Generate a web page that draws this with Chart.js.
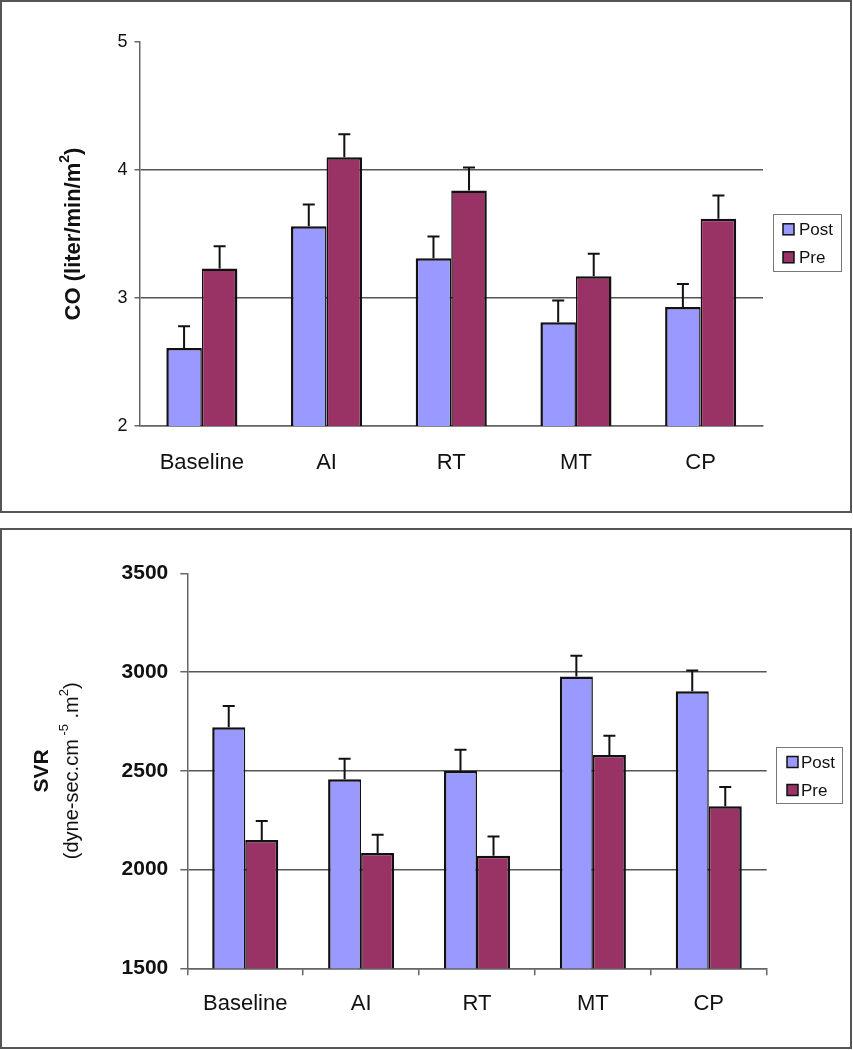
<!DOCTYPE html>
<html>
  <head>
    <meta charset="utf-8" />
    <title>CO and SVR</title>
    <script src="https://cdn.jsdelivr.net/npm/chart.js"></script>
    <style>
      body {
        margin: 0;
        background: #fff;
      }
      .frame {
        position: absolute;
        left: 0;
        width: 852px;
        box-sizing: border-box;
        border: 2px solid #555;
        background: #fff;
      }
      .frame div {
        position: relative;
        width: 848px;
      }
    </style>

    <script type="text/javascript">
      // ---------------------------------------------
      // data
      var categories = ["Baseline", "AI", "RT", "MT", "CP"];

      var coPost = [2.61, 3.56, 3.31, 2.81, 2.93];
      var coPre = [3.23, 4.1, 3.84, 3.17, 3.62];
      var coPostErr = [0.17, 0.17, 0.17, 0.17, 0.18];
      var coPreErr = [0.175, 0.18, 0.18, 0.175, 0.18];
      var coTicks = [2, 3, 4, 5];

      var svrPost = [2720, 2457, 2500, 2978, 2903];
      var svrPre = [2149, 2084, 2070, 2580, 2321];
      var svrPostErr = [108, 104, 107, 105, 105];
      var svrPreErr = [97, 92, 97, 97, 97];
      var svrTicks = [1500, 2000, 2500, 3000, 3500];

      var postColor = "#9999ff";
      var preColor = "#993366";
      var FONT = 'Arial, "Liberation Sans", sans-serif';

      // ---------------------------------------------
      // upward error bars with a small cap
      const errorBars = {
        id: "errorBars",
        afterDatasetsDraw(chart) {
          const ctx = chart.ctx;
          const y = chart.scales.y;
          chart.data.datasets.forEach((ds, i) => {
            chart.getDatasetMeta(i).data.forEach((bar, j) => {
              const top = y.getPixelForValue(ds.data[j] + ds.errors[j]);
              ctx.save();
              ctx.strokeStyle = "#111";
              ctx.lineWidth = 2;
              ctx.beginPath();
              ctx.moveTo(bar.x, bar.y);
              ctx.lineTo(bar.x, top);
              ctx.moveTo(bar.x - 6, top);
              ctx.lineTo(bar.x + 6, top);
              ctx.stroke();
              ctx.restore();
            });
          });
        },
      };

      // ---------------------------------------------
      // rotated y title, lines may mix fonts and superscripts
      const yTitle = {
        id: "yTitle",
        afterDraw(chart, args, opts) {
          const ctx = chart.ctx;
          const cy = (chart.chartArea.top + chart.chartArea.bottom) / 2;
          opts.lines.forEach((line) => {
            const supFont = line.weight + " " + Math.round(line.size * 0.65) + "px " + FONT;
            const mainFont = line.weight + " " + line.size + "px " + FONT;
            var w = 0;
            line.parts.forEach((p) => {
              ctx.font = p[1] ? supFont : mainFont;
              w += ctx.measureText(p[0]).width;
            });
            ctx.save();
            ctx.translate(line.x, cy);
            ctx.rotate(-Math.PI / 2);
            ctx.fillStyle = "#111";
            ctx.textBaseline = "middle";
            ctx.textAlign = "left";
            var x = -w / 2;
            line.parts.forEach((p) => {
              ctx.font = p[1] ? supFont : mainFont;
              ctx.fillText(p[0], x, p[1] ? -line.size * 0.38 : 0);
              x += ctx.measureText(p[0]).width;
            });
            ctx.restore();
          });
        },
      };

      // ---------------------------------------------
      // boxed legend like the original
      const boxLegend = {
        id: "boxLegend",
        afterDraw(chart, args, o) {
          const ctx = chart.ctx;
          ctx.save();
          ctx.strokeStyle = "#777";
          ctx.lineWidth = 1;
          ctx.strokeRect(o.x + 0.5, o.y + 0.5, o.w, o.h);
          ctx.font = o.size + "px " + FONT;
          ctx.textBaseline = "middle";
          chart.data.datasets.forEach((ds, i) => {
            const ry = o.rows[i];
            ctx.fillStyle = ds.backgroundColor;
            ctx.fillRect(o.sx, ry - 5.5, 11, 11);
            ctx.strokeStyle = "#111";
            ctx.lineWidth = 1.5;
            ctx.strokeRect(o.sx, ry - 5.5, 11, 11);
            ctx.fillStyle = "#111";
            ctx.fillText(ds.label, o.tx, ry + 1);
          });
          ctx.restore();
        },
      };

      function makeChart(id, cfg) {
        const datasets = [
          {
            label: "Post",
            data: cfg.post,
            errors: cfg.postErr,
            backgroundColor: postColor,
            borderColor: "#111",
            borderWidth: { left: 2.5, top: 2.5, right: 1.5, bottom: 2.5 },
            borderSkipped: false,
          },
          {
            label: "Pre",
            data: cfg.pre,
            errors: cfg.preErr,
            backgroundColor: preColor,
            borderColor: "#111",
            borderWidth: { left: 1.5, top: 2.5, right: 2.5, bottom: 2.5 },
            borderSkipped: false,
          },
        ];

        return new Chart(document.getElementById(id), {
          type: "bar",
          data: { labels: categories, datasets: datasets },
          plugins: [errorBars, yTitle, boxLegend],
          options: {
            responsive: true,
            maintainAspectRatio: false,
            animation: false,
            categoryPercentage: 0.57,
            barPercentage: 1,
            layout: { padding: { top: cfg.padTop, right: cfg.padRight, left: 0, bottom: 0 } },
            plugins: {
              legend: { display: false },
              tooltip: { enabled: false },
              yTitle: { lines: cfg.title },
              boxLegend: cfg.legend,
            },
            scales: {
              x: {
                afterFit(scale) {
                  scale.height = cfg.xHeight;
                },
                border: { display: true, color: "#666", width: 1.5 },
                grid: {
                  display: cfg.xTicks,
                  drawOnChartArea: false,
                  drawTicks: cfg.xTicks,
                  tickLength: 7,
                  color: "#666",
                  lineWidth: 1.5,
                },
                ticks: {
                  color: "#111",
                  padding: cfg.xPad,
                  font: { size: 22, family: FONT },
                },
              },
              y: {
                min: cfg.ticks[0],
                max: cfg.ticks[cfg.ticks.length - 1],
                afterFit(scale) {
                  scale.width = cfg.yWidth;
                },
                afterBuildTicks(scale) {
                  scale.ticks = cfg.ticks.map((v) => ({ value: v }));
                },
                border: { display: true, color: "#666", width: 1.5 },
                grid: {
                  color: (c) =>
                    c.tick && c.tick.value === cfg.ticks[cfg.ticks.length - 1] ? "rgba(0,0,0,0)" : "#555",
                  tickColor: "#666",
                  lineWidth: 1.5,
                  tickLength: cfg.yTickLen,
                },
                ticks: {
                  color: "#111",
                  padding: cfg.yPad,
                  font: { size: cfg.yFontSize, weight: cfg.yFontWeight, family: FONT },
                  callback: (v) => String(v),
                },
              },
            },
          },
        });
      }

      function start() {
        Chart.defaults.font.family = FONT;

        makeChart("coChart", {
          post: coPost,
          pre: coPre,
          postErr: coPostErr,
          preErr: coPreErr,
          ticks: coTicks,
          padTop: 40,
          padRight: 87,
          xHeight: 85,
          xTicks: false,
          xPad: 24,
          yWidth: 137.5,
          yTickLen: 5,
          yPad: 7,
          yFontSize: 18,
          yFontWeight: "normal",
          title: [
            {
              x: 72,
              size: 22,
              weight: "bold",
              parts: [
                ["CO (liter/min/m", false],
                ["2", true],
                [")", false],
              ],
            },
          ],
          legend: { x: 771, y: 212, w: 68, h: 57, rows: [227.3, 255.3], sx: 781, tx: 797, size: 17 },
        });

        makeChart("svrChart", {
          post: svrPost,
          pre: svrPre,
          postErr: svrPostErr,
          preErr: svrPreErr,
          ticks: svrTicks,
          padTop: 43.3,
          padRight: 83.3,
          xHeight: 78.7,
          xTicks: true,
          xPad: 15,
          yWidth: 185.3,
          yTickLen: 7,
          yPad: 12,
          yFontSize: 21,
          yFontWeight: "bold",
          title: [
            {
              x: 40,
              size: 21,
              weight: "bold",
              parts: [["SVR", false]],
            },
            {
              x: 70,
              size: 20,
              weight: "normal",
              parts: [
                ["(dyne-sec.cm", false],
                [" -5", true],
                [" .m", false],
                ["2", true],
                [")", false],
              ],
            },
          ],
          legend: { x: 774, y: 217, w: 66, h: 56, rows: [232, 260], sx: 785, tx: 799, size: 17 },
        });
      }
    </script>
  </head>

  <body onLoad="start()">
    <div class="frame" style="top: 0; height: 513px">
      <div style="height: 509px"><canvas id="coChart"></canvas></div>
    </div>
    <div class="frame" style="top: 528px; height: 521px">
      <div style="height: 517px"><canvas id="svrChart"></canvas></div>
    </div>
  </body>
</html>
